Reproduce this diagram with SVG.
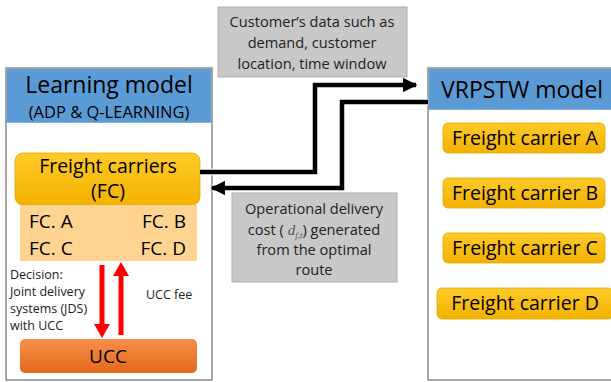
<svg xmlns="http://www.w3.org/2000/svg" width="611" height="382" viewBox="0 0 611 382">
<defs>
<linearGradient id="gy" x1="0" y1="0" x2="0" y2="1"><stop offset="0" stop-color="#FFCA28"/><stop offset="1" stop-color="#F2B200"/></linearGradient>
<linearGradient id="go" x1="0" y1="0" x2="0" y2="1"><stop offset="0" stop-color="#F5904A"/><stop offset="1" stop-color="#E5681C"/></linearGradient>
<marker id="ab" viewBox="0 0 10 10" refX="9" refY="5" markerWidth="3.4" markerHeight="3.2" markerUnits="strokeWidth" orient="auto"><path d="M0,0 L10,5 L0,10 z" fill="#000"/></marker>
</defs>
<style>
text{font-family:"Open Sans","Liberation Sans",sans-serif;fill:#000}
.panel{fill:#fff;stroke:#8a8a8a;stroke-width:1.5}
.hdr{fill:#5B9BD5}
.fc{fill:url(#gy);stroke:#E0A800;stroke-width:0.8}
.gray{fill:#C8C8C8;stroke:#B0B0B0;stroke-width:1}
.gt{font-size:14.6px;text-anchor:middle;fill:#222}
.blk{fill:none;stroke:#000;stroke-width:4.5}
.wht{fill:none;stroke:#fff;stroke-width:7}
.red{fill:#F00}
.car{font-size:19.5px;text-anchor:middle}
.fcl{font-size:19px}
.dec{font-size:12.5px;fill:#222}
</style>
<g id="learning-model">
<rect class="panel" x="6" y="68" width="206" height="312"/>
<rect class="hdr" x="6.75" y="68.75" width="204.5" height="54"/>
<text x="109" y="93" font-size="23" text-anchor="middle">Learning model</text>
<text x="109" y="118" font-size="16.5" text-anchor="middle">(ADP &amp; Q-LEARNING)</text>
</g>
<g id="fc">
<rect class="fc" x="15" y="153" width="185" height="52" rx="8"/>
<text x="108" y="173" font-size="19.5" text-anchor="middle">Freight carriers</text>
<text x="108" y="198" font-size="19.5" text-anchor="middle">(FC)</text>
</g>
<g id="fc-list">
<rect x="20" y="205" width="177" height="56" fill="#FFD490"/>
<text class="fcl" x="29" y="228">FC. A</text>
<text class="fcl" x="186" y="228" text-anchor="end">FC. B</text>
<text class="fcl" x="29" y="255">FC. C</text>
<text class="fcl" x="186" y="255" text-anchor="end">FC. D</text>
</g>
<g id="ucc">
<rect x="20" y="339" width="177" height="34" rx="5" fill="url(#go)"/>
<text x="108" y="363" font-size="19" text-anchor="middle">UCC</text>
</g>
<g id="labels">
<text class="dec" x="10" y="279">Decision:</text>
<text class="dec" x="10" y="296">Joint delivery</text>
<text class="dec" x="10" y="313">systems (JDS)</text>
<text class="dec" x="10" y="330">with UCC</text>
<text class="dec" x="146" y="299">UCC fee</text>
</g>
<g id="vrpstw-model">
<rect class="panel" x="428" y="68" width="190" height="312"/>
<rect class="hdr" x="428.75" y="68.75" width="190" height="41"/>
<text x="441" y="98" font-size="23">VRPSTW model</text>
</g>
<g id="carrier-a"><rect class="fc" x="443" y="123" width="162" height="30" rx="5"/><text class="car" x="525" y="145">Freight carrier A</text></g>
<g id="carrier-b"><rect class="fc" x="443" y="178" width="162" height="30" rx="5"/><text class="car" x="525" y="200">Freight carrier B</text></g>
<g id="carrier-c"><rect class="fc" x="443" y="233" width="162" height="30" rx="5"/><text class="car" x="525" y="255">Freight carrier C</text></g>
<g id="carrier-d"><rect class="fc" x="437" y="288" width="176" height="31" rx="5"/><text class="car" x="525" y="310">Freight carrier D</text></g>
<g id="customer-data">
<rect class="gray" x="218" y="7" width="189" height="70"/>
<text class="gt" x="312" y="27">Customer’s data such as</text>
<text class="gt" x="312" y="48">demand, customer</text>
<text class="gt" x="312" y="69">location, time window</text>
</g>
<g id="connectors">
<path class="wht" d="M200,172 H315 V85 H416"/>
<path class="blk" d="M200,172 H315 V85 H416" marker-end="url(#ab)"/>
<path class="wht" d="M428,102 H342 V188 H212"/>
<path class="blk" d="M428,102 H342 V188 H212" marker-end="url(#ab)"/>
<path class="red" d="M99.5,265 H104.5 V324 H110 L102,338 L94,324 H99.5 Z"/>
<path class="red" d="M118.5,335 H123.5 V276 H129 L121,262 L113,276 H118.5 Z"/>
</g>
<g id="cost">
<rect class="gray" x="232" y="193" width="165" height="89"/>
<text class="gt" x="314" y="214">Operational delivery</text>
<text class="gt" x="314" y="235">cost ( <tspan font-family="Liberation Serif,serif" font-style="italic" font-size="15" fill="#555">d</tspan><tspan font-family="Liberation Serif,serif" font-style="italic" font-size="9" dy="3" fill="#555">f,t</tspan><tspan dy="-3">) generated</tspan></text>
<text class="gt" x="314" y="255">from the optimal</text>
<text class="gt" x="314" y="275">route</text>
</g>
</svg>
